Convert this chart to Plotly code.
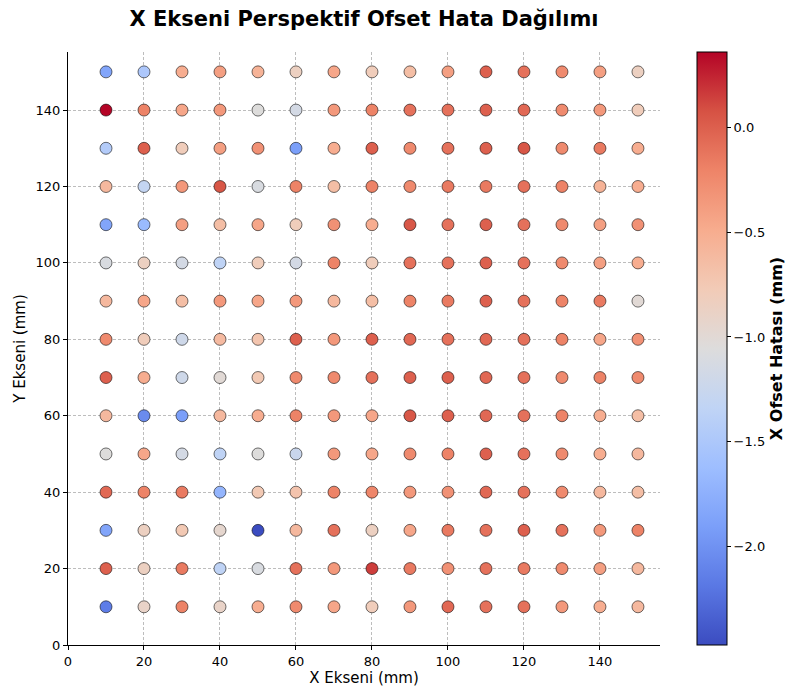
import plotly.graph_objects as go

x_positions = [10, 20, 30, 40, 50, 60, 70, 80, 90, 100, 110, 120, 130, 140, 150]
y_positions = [150, 140, 130, 120, 110, 100, 90, 80, 70, 60, 50, 40, 30, 20, 10]

# X offset error (mm) per row (y from 150 down to 10), columns x = 10..150
row_150 = [-1.85, -1.50, -0.50, -0.40, -0.55, -0.85, -0.45, -0.80, -0.65, -0.40, 0.00, -0.10, -0.25, -0.40, -0.85]
row_140 = [0.36, -0.20, -0.45, -0.35, -1.05, -1.15, -0.35, -0.20, -0.10, -0.10, 0.00, -0.05, -0.25, -0.35, -0.80]
row_130 = [-1.45, 0.00, -0.80, -0.40, -0.30, -1.90, -0.50, 0.00, -0.25, -0.10, 0.00, 0.05, -0.25, -0.15, -0.50]
row_120 = [-0.60, -1.30, -0.35, 0.05, -1.10, -0.20, -0.65, -0.20, -0.25, -0.15, -0.15, -0.10, -0.20, -0.55, -0.50]
row_110 = [-1.85, -1.65, -0.40, -0.65, -0.45, -0.80, -0.30, -0.50, 0.05, -0.10, 0.00, -0.10, -0.25, -0.40, -0.30]
row_100 = [-1.10, -0.85, -1.15, -1.35, -0.80, -1.15, -0.20, -0.80, -0.10, -0.10, 0.00, -0.10, -0.25, -0.40, -0.50]
row_90 = [-0.60, -0.45, -0.65, -0.35, -0.45, -0.35, -0.60, -0.65, -0.20, -0.15, 0.00, -0.10, -0.20, -0.15, -1.00]
row_80 = [-0.25, -0.80, -1.20, -0.62, -0.72, 0.00, -0.35, 0.00, -0.05, -0.10, -0.05, -0.10, -0.20, -0.45, -0.30]
row_70 = [0.00, -0.50, -1.20, -1.00, -0.75, -0.25, -0.25, -0.10, 0.00, 0.00, -0.05, -0.10, -0.25, -0.20, -0.25]
row_60 = [-0.60, -2.05, -1.90, -0.60, -0.50, -0.20, -0.35, -0.45, 0.05, 0.00, -0.05, -0.10, -0.20, -0.50, -0.65]
row_50 = [-1.05, -0.45, -1.15, -1.35, -1.05, -1.25, -0.35, -0.45, -0.25, -0.20, 0.00, -0.10, -0.25, -0.50, -0.60]
row_40 = [-0.05, -0.20, -0.15, -1.70, -0.75, -0.70, -0.20, -0.22, -0.35, -0.30, -0.05, -0.10, -0.25, -0.60, -0.65]
row_30 = [-1.85, -0.85, -0.75, -0.95, -2.47, -0.60, -0.10, -0.85, -0.45, -0.15, -0.10, 0.00, -0.10, -0.35, -0.20]
row_20 = [0.00, -0.85, -0.15, -1.35, -1.10, -0.10, -0.35, 0.15, -0.15, -0.30, -0.10, -0.15, -0.25, -0.40, -0.60]
row_10 = [-2.15, -0.90, -0.20, -0.90, -0.50, -0.25, -0.45, -0.80, -0.35, -0.05, -0.10, -0.10, -0.35, -0.50, -0.60]

rows = [row_150, row_140, row_130, row_120, row_110, row_100, row_90, row_80,
        row_70, row_60, row_50, row_40, row_30, row_20, row_10]

xs, ys, vals = [], [], []
for yv, row in zip(y_positions, rows):
    for xv, v in zip(x_positions, row):
        xs.append(xv)
        ys.append(yv)
        vals.append(v)

coolwarm = [
    [0.0, "#3b4cc0"], [0.1, "#5a78e4"], [0.2, "#7b9ff9"], [0.3, "#9ebeff"],
    [0.4, "#c0d4f5"], [0.5, "#dddcdc"], [0.6, "#f2cbb7"], [0.7, "#f7ac8e"],
    [0.8, "#ee8468"], [0.9, "#d65244"], [1.0, "#b40426"],
]

font_family = "DejaVu Sans"

fig = go.Figure(go.Scatter(
    x=xs, y=ys, mode="markers",
    marker=dict(
        color=vals, colorscale=coolwarm, size=12,
        line=dict(color="rgba(0,0,0,0.7)", width=0.8),
        colorbar=dict(
            title=dict(text="<b>X Ofset Hatası (mm)</b>", side="right",
                       font=dict(size=16, family=font_family, color="black")),
            thickness=30, thicknessmode="pixels",
            len=1.0, lenmode="fraction", y=0.5, yanchor="middle", yref="paper",
            x=1.0625, xanchor="left", xref="paper",
            xpad=0, ypad=0,
            outlinewidth=1, outlinecolor="black",
            ticks="outside", ticklen=4, tickcolor="black",
            tickvals=[0.0, -0.5, -1.0, -1.5, -2.0],
            ticktext=["0.0", "−0.5", "−1.0", "−1.5", "−2.0"],
            tickfont=dict(size=13, family=font_family, color="black"),
        ),
    ),
    showlegend=False,
))

axis_common = dict(
    showline=True, linecolor="black", linewidth=1.2,
    ticks="outside", ticklen=4, tickcolor="black", tickwidth=1,
    showgrid=True, gridcolor="#bdbdbd", gridwidth=0.7, griddash="3px,2px",
    zeroline=False, mirror=False,
    tickfont=dict(size=13, family=font_family, color="black"),
)

fig.update_layout(
    width=787, height=691,
    margin=dict(l=68, r=127, t=52, b=46, autoexpand=False),
    paper_bgcolor="white", plot_bgcolor="white",
    title=dict(text="<b>X Ekseni Perspektif Ofset Hata Dağılımı</b>",
               x=(364 / 787), xref="container", xanchor="center", y=1 - 19 / 691, yanchor="middle",
               font=dict(size=21, family=font_family, color="black")),
    xaxis=dict(range=[0, 155.8], tickvals=[0, 20, 40, 60, 80, 100, 120, 140],
               title=dict(text="X Ekseni (mm)", standoff=4,
                          font=dict(size=15, family=font_family, color="black")),
               **axis_common),
    yaxis=dict(range=[0, 155.2], tickvals=[0, 20, 40, 60, 80, 100, 120, 140],
               title=dict(text="Y Ekseni (mm)", standoff=6,
                          font=dict(size=15, family=font_family, color="black")),
               **axis_common),
    font=dict(family=font_family),
)

fig.write_html("out.html")
